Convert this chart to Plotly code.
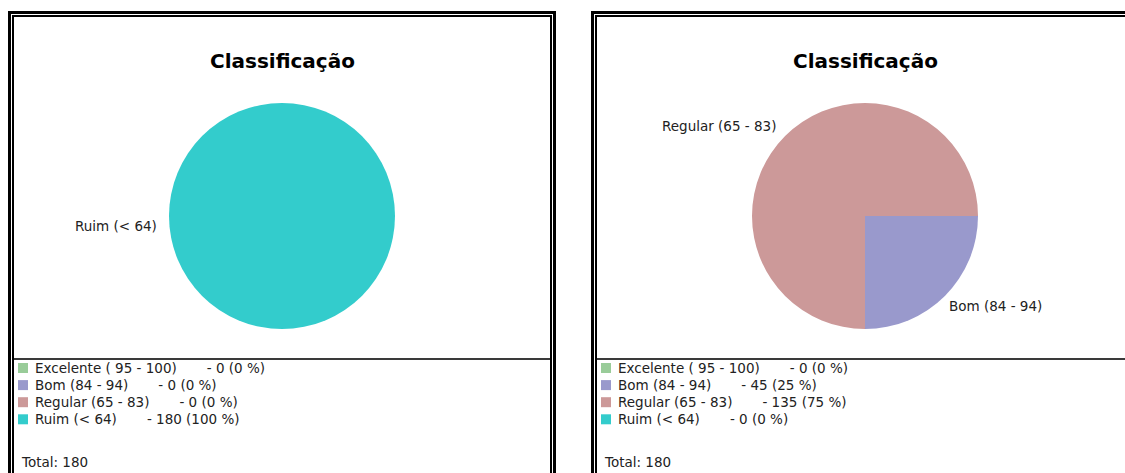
import math
import plotly.graph_objects as go

# Classification groups and their score ranges
categories = ["Excelente", "Bom", "Regular", "Ruim"]
ranges = ["( 95 - 100)", "(84 - 94)", "(65 - 83)", "(< 64)"]
colors = ["#99CC99", "#9999CC", "#CC9999", "#33CCCC"]

# Counts per group for the two panels
counts_left = [0, 0, 0, 180]
counts_right = [0, 45, 135, 0]

title_text = "Classificação"

W, H = 1125, 473
FONT = "DejaVu Sans"
NB = "\u00a0"
TEXT_SIZE = 13.5


def px(x):
    return x / W


def py(y):
    return 1 - y / H


fig = go.Figure()
shapes = []
annotations = []

panel_offset = 583
pie_cx, pie_cy, pie_r = 282, 216, 113

for k, counts in enumerate([counts_left, counts_right]):
    dx = k * panel_offset
    total = sum(counts)
    cx = pie_cx + dx

    # pie
    fig.add_trace(go.Pie(
        labels=[f"{c} {r}" for c, r in zip(categories, ranges)],
        values=counts,
        marker=dict(colors=colors, line=dict(width=0)),
        sort=False,
        direction="clockwise",
        rotation=90,
        textinfo="none",
        showlegend=False,
        hoverinfo="label+value+percent",
        domain=dict(x=[px(cx - pie_r), px(cx + pie_r)],
                    y=[py(pie_cy + pie_r), py(pie_cy - pie_r)]),
    ))

    # slice labels placed just outside each non-empty slice
    cum = 0
    for c, r, v in zip(categories, ranges, counts):
        if v > 0:
            mid = math.radians(90 + 360 * (cum + v / 2) / total)
            sx, sy = math.sin(mid), -math.cos(mid)
            left_side = sx < -1e-9
            gap = 10 if left_side else 3
            lx = cx + (pie_r + gap) * sx
            ly = pie_cy + pie_r * sy
            annotations.append(dict(
                x=px(lx), y=py(ly), xref="paper", yref="paper",
                text=f"{c} {r}", showarrow=False,
                xanchor="right" if left_side else "left",
                yanchor="bottom" if sy < -1e-9 else "top",
                font=dict(family=FONT, size=TEXT_SIZE, color="#222222"),
            ))
        cum += v

    # title
    annotations.append(dict(
        x=px(cx), y=py(61), xref="paper", yref="paper",
        text=f"<b>{title_text}</b>", showarrow=False,
        xanchor="center", yanchor="middle",
        font=dict(family=FONT, size=20, color="#000000"),
    ))

    # legend rows
    for i, (c, r, v, col) in enumerate(zip(categories, ranges, counts, colors)):
        yc = 368 + i * 17.1
        shapes.append(dict(type="rect", xref="paper", yref="paper",
                           x0=px(18 + dx), x1=px(28 + dx),
                           y0=py(yc + 5), y1=py(yc - 5),
                           fillcolor=col, line=dict(width=0)))
        pct = round(100 * v / total)
        annotations.append(dict(
            x=px(33 + dx), y=py(yc), xref="paper", yref="paper",
            text=f"{c} {r}{NB * 7}- {v} ({pct} %)", showarrow=False,
            xanchor="left", yanchor="middle",
            font=dict(family=FONT, size=TEXT_SIZE, color="#222222"),
        ))
    annotations.append(dict(
        x=px(19 + dx), y=py(462), xref="paper", yref="paper",
        text=f"Total:{NB}{total}", showarrow=False,
        xanchor="left", yanchor="middle",
        font=dict(family=FONT, size=TEXT_SIZE, color="#222222"),
    ))

    # panel frame: thick outer line, thin inner line, divider above legend
    right_outer = 554.5 + dx if k == 0 else 1200
    right_inner = 551 + dx if k == 0 else 1200
    shapes.append(dict(type="rect", xref="paper", yref="paper",
                       x0=px(9.5 + dx), x1=px(right_outer),
                       y0=py(560), y1=py(12.5),
                       line=dict(color="#000000", width=3)))
    shapes.append(dict(type="rect", xref="paper", yref="paper",
                       x0=px(13 + dx), x1=px(right_inner),
                       y0=py(560), y1=py(16),
                       line=dict(color="#000000", width=2)))
    shapes.append(dict(type="line", xref="paper", yref="paper",
                       x0=px(14 + dx), x1=px(right_inner - 1),
                       y0=py(359), y1=py(359),
                       line=dict(color="#3a3a3a", width=2)))

fig.update_layout(
    width=W, height=H,
    margin=dict(l=0, r=0, t=0, b=0),
    paper_bgcolor="#ffffff",
    plot_bgcolor="#ffffff",
    shapes=shapes,
    annotations=annotations,
    showlegend=False,
)

fig.write_html("out.html")
